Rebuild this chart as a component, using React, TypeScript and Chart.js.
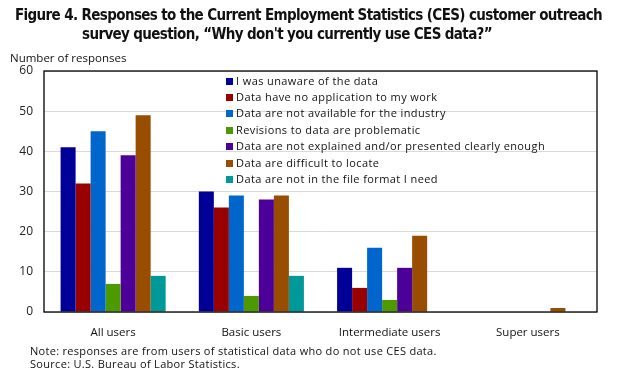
import React, { useEffect, useRef } from "react";
import { Chart, registerables } from "chart.js";

Chart.register(...registerables);

const categories = ["All users", "Basic users", "Intermediate users", "Super users"];
const seriesLabels = [
  "I was unaware of the data",
  "Data have no application to my work",
  "Data are not available for the industry",
  "Revisions to data are problematic",
  "Data are not explained and/or presented clearly enough",
  "Data are difficult to locate",
  "Data are not in the file format I need",
];
const unaware = [41, 30, 11, 0];
const noApplication = [32, 26, 6, 0];
const notAvailable = [45, 29, 16, 0];
const revisions = [7, 4, 3, 0];
const notExplained = [39, 28, 11, 0];
const difficult = [49, 29, 19, 1];
const fileFormat = [9, 9, 0, 0];
const seriesValues = [unaware, noApplication, notAvailable, revisions, notExplained, difficult, fileFormat];
const seriesColors = ["#000099", "#990000", "#0066cc", "#4d9900", "#4d0099", "#994d00", "#009999"];
const yTicks = [0, 10, 20, 30, 40, 50, 60];

const FONT = '"Open Sans", "Noto Sans", sans-serif';
const TITLE_FONT = '"Liberation Sans Narrow", "DejaVu Sans Condensed", "Open Sans", sans-serif';

const insideLegend = {
  id: "insideLegend",
  afterDatasetsDraw(chart: any) {
    const ctx = chart.ctx;
    ctx.save();
    ctx.font = `11px ${FONT}`;
    try {
      ctx.letterSpacing = "0.4px";
    } catch (e) {}
    ctx.textBaseline = "middle";
    ctx.textAlign = "left";
    chart.data.datasets.forEach((ds: any, i: number) => {
      const y = 81 + i * 16.4;
      ctx.fillStyle = ds.backgroundColor;
      ctx.fillRect(226, Math.round(y - 3.5), 7, 7);
      ctx.fillStyle = "#111";
      ctx.fillText(ds.label, 236, y + 0.5);
    });
    ctx.restore();
  },
};

const frameBox = {
  id: "frameBox",
  afterDatasetsDraw(chart: any) {
    const { ctx, chartArea } = chart;
    ctx.save();
    ctx.strokeStyle = "#000";
    ctx.lineWidth = 1.3;
    ctx.strokeRect(chartArea.left, chartArea.top, chartArea.right - chartArea.left, chartArea.bottom - chartArea.top);
    ctx.restore();
  },
};

export default function App() {
  const ref = useRef<HTMLCanvasElement | null>(null);

  useEffect(() => {
    document.body.style.margin = "0";
    if (!ref.current) return;
    const chart = new Chart(ref.current, {
      type: "bar",
      data: {
        labels: categories,
        datasets: seriesLabels.map((label, i) => ({
          label,
          data: seriesValues[i],
          backgroundColor: seriesColors[i],
          borderWidth: 0,
          barPercentage: 1,
          categoryPercentage: 0.76,
        })),
      },
      options: {
        animation: false,
        responsive: false,
        layout: { padding: { top: 71, right: 36, left: 0, bottom: 6 } },
        plugins: {
          legend: { display: false },
          title: { display: false },
          tooltip: { enabled: false },
        },
        scales: {
          x: {
            grid: { display: false },
            border: { display: false },
            ticks: { font: { family: FONT, size: 11.5 }, color: "#111", padding: 6 },
            afterFit(s: any) {
              s.height = 60;
            },
          },
          y: {
            min: 0,
            max: 60,
            afterBuildTicks(s: any) {
              s.ticks = yTicks.map((v) => ({ value: v }));
            },
            grid: { color: "#d9d9d9", drawTicks: false, lineWidth: 1 },
            border: { display: false },
            ticks: { font: { family: FONT, size: 12 }, color: "#222", padding: 11 },
            afterFit(s: any) {
              s.width = 44;
            },
          },
        },
      },
      plugins: [frameBox, insideLegend],
    });
    return () => chart.destroy();
  }, []);

  return (
    <div style={{ position: "relative", width: 633, height: 378, background: "#fff", color: "#111" }}>
      <canvas ref={ref} width={633} height={378} style={{ position: "absolute", left: 0, top: 0, display: "block" }} />
      <div
        style={{
          position: "absolute",
          left: 15,
          top: 6,
          fontFamily: TITLE_FONT,
          fontWeight: "bold",
          fontSize: 15,
          letterSpacing: "-0.63px",
          lineHeight: "19px",
          whiteSpace: "nowrap",
        }}
      >
        <div>Figure 4. Responses to the Current Employment Statistics (CES) customer outreach</div>
        <div style={{ paddingLeft: 67 }}>survey question, “Why don't you currently use CES data?”</div>
      </div>
      <div
        style={{ position: "absolute", left: 10, top: 50, fontFamily: FONT, fontSize: 11.5, whiteSpace: "nowrap" }}
      >
        Number of responses
      </div>
      <div
        style={{
          position: "absolute",
          left: 30,
          top: 344,
          fontFamily: FONT,
          fontSize: 11,
          letterSpacing: "0.3px",
          lineHeight: "13px",
          whiteSpace: "nowrap",
        }}
      >
        <div>Note: responses are from users of statistical data who do not use CES data.</div>
        <div>Source: U.S. Bureau of Labor Statistics.</div>
      </div>
    </div>
  );
}
